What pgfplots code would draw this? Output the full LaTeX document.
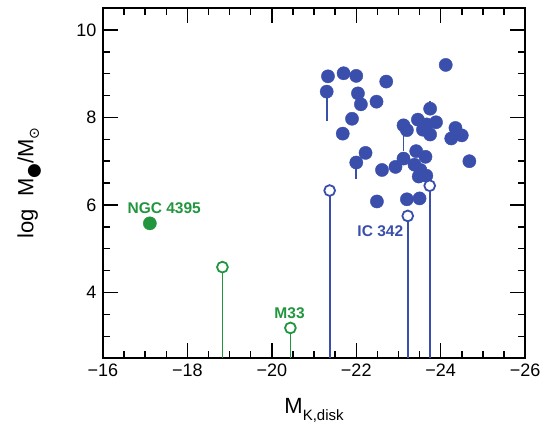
\documentclass[border=0pt]{standalone}
\usepackage{pgfplots}
\pgfplotsset{compat=1.18}
\usepackage{fontspec}
\setmainfont{Liberation Sans}
\newfontfamily\dejavu{DejaVu Sans}
\definecolor{cblue}{RGB}{58,78,172}
\definecolor{cgreen}{RGB}{34,150,62}
\begin{document}
\begin{tikzpicture}
\begin{axis}[
  scale only axis, width=422pt, height=350pt,
  x dir=reverse, xmin=-26, xmax=-16, ymin=2.5, ymax=10.5,
  xtick={-26,-24,-22,-20,-18,-16},
  xticklabels={−26,−24,−22,−20,−18,−16},
  ytick={4,6,8,10}, yticklabels={4,6,8,10},
  minor x tick num=3, minor y tick num=3,
  major tick length=15pt, minor tick length=7pt,
  tick style={line width=1.5pt, black},
  ticklabel style={font=\fontsize{18}{18}\selectfont},
  xticklabel style={yshift=-2pt},
  yticklabel style={xshift=-3pt},
  xlabel={M{\fontsize{15}{15}\selectfont\raisebox{-0.45em}{K,disk}}},
  xlabel style={font=\fontsize{22}{22}\selectfont, at={(axis description cs:0.5,-0.15)}, anchor=center},
  ylabel={log\ \ M\raisebox{-0.25em}{\dejavu\fontsize{17}{17}\selectfont ●}/M\raisebox{-0.25em}{\dejavu\fontsize{14}{14}\selectfont ⊙}},
  ylabel style={font=\fontsize{22}{22}\selectfont, at={(axis description cs:-0.175,0.5)}, anchor=center},
  clip=false,
]
\path (axis description cs:-0.244,-0.237) rectangle (axis description cs:1.059,1.023);
\draw[line width=1.5pt] (rel axis cs:0,0) rectangle (rel axis cs:1,1);
% tick marks on all four sides (inside)
\pgfplotsinvokeforeach{-25.5,-25,-24.5,-23.5,-23,-22.5,-21.5,-21,-20.5,-19.5,-19,-18.5,-17.5,-17,-16.5}{
  \draw[line width=1.5pt] (axis cs:#1,2.5) -- ([yshift=7pt]axis cs:#1,2.5);
  \draw[line width=1.5pt] (axis cs:#1,10.5) -- ([yshift=-7pt]axis cs:#1,10.5);
}
\pgfplotsinvokeforeach{-24,-22,-20,-18}{
  \draw[line width=1.5pt] (axis cs:#1,2.5) -- ([yshift=15pt]axis cs:#1,2.5);
  \draw[line width=1.5pt] (axis cs:#1,10.5) -- ([yshift=-15pt]axis cs:#1,10.5);
}
\pgfplotsinvokeforeach{3,3.5,4.5,5,5.5,6.5,7,7.5,8.5,9,9.5}{
  \draw[line width=1.5pt] (axis cs:-16,#1) -- ([xshift=7pt]axis cs:-16,#1);
  \draw[line width=1.5pt] (axis cs:-26,#1) -- ([xshift=-7pt]axis cs:-26,#1);
}
\pgfplotsinvokeforeach{4,6,8,10}{
  \draw[line width=1.5pt] (axis cs:-16,#1) -- ([xshift=15pt]axis cs:-16,#1);
  \draw[line width=1.5pt] (axis cs:-26,#1) -- ([xshift=-15pt]axis cs:-26,#1);
}
% error bars on filled points
\addplot[cblue, line width=1.8pt] coordinates {(-21.30,7.93) (-21.30,8.59)};
\addplot[cblue, line width=1.8pt] coordinates {(-23.12,7.23) (-23.12,7.82)};
\addplot[cblue, line width=1.8pt] coordinates {(-22.00,6.59) (-22.00,6.97)};
\addplot[cblue, line width=1.8pt] coordinates {(-23.75,8.20) (-23.75,8.38)};
\addplot[cblue, line width=1.8pt] coordinates {(-21.70,9.01) (-21.70,9.12)};
% drop lines for upper limits
\addplot[cblue, line width=1.8pt] coordinates {(-21.37,2.5) (-21.37,6.33)};
\addplot[cblue, line width=1.8pt] coordinates {(-23.22,2.5) (-23.22,5.75)};
\addplot[cblue, line width=1.8pt] coordinates {(-23.74,2.5) (-23.74,6.44)};
\addplot[cgreen, line width=1.8pt] coordinates {(-18.83,2.5) (-18.83,4.58)};
\addplot[cgreen, line width=1.8pt] coordinates {(-20.44,2.5) (-20.44,3.19)};
% filled blue points
\addplot[only marks, mark=*, mark size=6.6pt, cblue, mark options={fill=cblue, draw=cblue}] coordinates {
(-21.33,8.94) (-21.70,9.01) (-22.00,8.95) (-22.71,8.82) (-24.12,9.20)
(-21.30,8.59) (-22.04,8.55) (-22.11,8.30) (-22.48,8.36) (-21.90,7.97)
(-21.68,7.63) (-23.75,8.20) (-23.12,7.82) (-23.20,7.71) (-23.46,7.95)
(-23.67,7.84) (-23.89,7.89) (-23.58,7.72) (-23.75,7.61) (-24.35,7.76)
(-24.25,7.52) (-24.50,7.59) (-24.68,7.00) (-22.22,7.19) (-22.00,6.97)
(-22.61,6.80) (-22.93,6.87) (-23.12,7.06) (-23.42,7.23) (-23.64,7.10)
(-23.38,6.92) (-23.52,6.80) (-23.48,6.65) (-23.66,6.67) (-22.49,6.08)
(-23.20,6.13) (-23.50,6.15)
};
% open blue points
\addplot[only marks, mark=*, mark size=5.4pt, mark options={fill=white, draw=cblue, line width=1.8pt}] coordinates {
(-21.37,6.33) (-23.22,5.75) (-23.74,6.44)
};
% green points
\addplot[only marks, mark=*, mark size=6.6pt, mark options={fill=cgreen, draw=cgreen}] coordinates {(-17.11,5.58)};
\addplot[only marks, mark=*, mark size=5.4pt, mark options={fill=white, draw=cgreen, line width=1.8pt}] coordinates {
(-18.83,4.58) (-20.44,3.19)
};
\node[text=cgreen, font=\bfseries\fontsize{15.5}{15.5}\selectfont] at (axis cs:-17.45,5.92) {NGC 4395};
\node[text=cgreen, font=\bfseries\fontsize{15.5}{15.5}\selectfont] at (axis cs:-20.42,3.52) {M33};
\node[text=cblue, font=\bfseries\fontsize{15.5}{15.5}\selectfont] at (axis cs:-22.57,5.39) {IC 342};
\end{axis}
\end{tikzpicture}
\end{document}
